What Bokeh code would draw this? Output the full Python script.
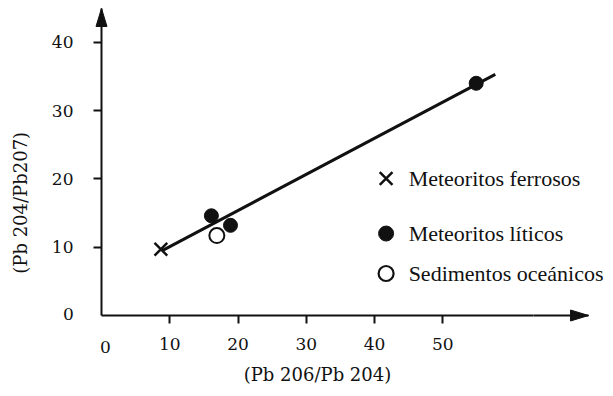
import math
from bokeh.plotting import figure
from bokeh.models import Range1d, FixedTicker, Label
from bokeh.embed import file_html
from bokeh.resources import INLINE

# ---- data ----
ferrosos_x = [8.7]
ferrosos_y = [9.7]
liticos_x = [16.1, 18.9, 54.9]
liticos_y = [14.6, 13.2, 34.0]
sedimentos_x = [16.9]
sedimentos_y = [11.7]
fit_x = [8.9, 57.7]
fit_y = [9.5, 35.3]
x_ticks = [10, 20, 30, 40, 50]
y_ticks = [10, 20, 30, 40]
legend_labels = ["Meteoritos ferrosos", "Meteoritos líticos", "Sedimentos oceánicos"]
x_title = "(Pb 206/Pb 204)"
y_title = "(Pb 204/Pb207)"

# ---- layout constants ----
W, H = 605, 388
SX, SY = 6.825, 6.83          # pixels per data unit
X0_PX, Y0_PX = 101, 315       # where the origin sits on the canvas
X_START = -X0_PX / SX
X_END = X_START + W / SX
Y_START = -(H - Y0_PX) / SY
Y_END = Y0_PX / SY
X_TIP = 71.36
Y_TIP = 44.95
X_AXIS_SPAN = 63.3            # axis span used to centre the x title
INK = "#111111"
TICK_FONT = "DejaVu Serif"
LEG_FONT = "Liberation Serif"

p = figure(width=W, height=H, output_backend="svg", toolbar_location=None,
           x_range=Range1d(X_START, X_END), y_range=Range1d(Y_START, Y_END),
           min_border=0, min_border_left=0, min_border_right=0,
           min_border_top=0, min_border_bottom=0)
p.grid.visible = False
p.outline_line_color = None
p.background_fill_color = "white"
p.border_fill_color = "white"

for ax, ticks, span in ((p.xaxis, x_ticks, X_AXIS_SPAN), (p.yaxis, y_ticks, Y_TIP)):
    ax.fixed_location = 0
    ax.bounds = (0, span)
    ax.ticker = FixedTicker(ticks=ticks)
    ax.major_tick_out = 8
    ax.major_tick_in = 0
    ax.minor_tick_out = 0
    ax.minor_tick_in = 0
    ax.axis_line_width = 2
    ax.axis_line_color = INK
    ax.major_tick_line_width = 2
    ax.major_tick_line_color = INK
    ax.major_label_text_font = TICK_FONT
    ax.major_label_text_font_size = "17px"
    ax.major_label_text_color = INK
    ax.axis_label_text_font = TICK_FONT
    ax.axis_label_text_font_size = "18px"
    ax.axis_label_text_font_style = "normal"
    ax.axis_label_text_color = INK

p.xaxis.axis_label = x_title
p.xaxis.major_label_standoff = 14
p.yaxis.major_label_standoff = 20
p.xaxis.axis_label_standoff = 11

# rest of the x axis line up to the arrow
p.segment(x0=[X_AXIS_SPAN], y0=[0], x1=[X_TIP], y1=[0], line_width=2, line_color=INK)

# y title (rotated)
p.add_layout(Label(x=-11.87, y=16.5, text=y_title, angle=math.pi / 2,
                   text_align="center", text_baseline="middle", text_font=TICK_FONT,
                   text_font_size="18px", text_color=INK))

# zero labels at the origin
p.add_layout(Label(x=0, y=0, text="0", x_offset=4, y_offset=-31, text_align="center",
                   text_baseline="middle", text_font=TICK_FONT,
                   text_font_size="17px", text_color=INK))
p.add_layout(Label(x=0, y=0, text="0", x_offset=-33, y_offset=2, text_align="center",
                   text_baseline="middle", text_font=TICK_FONT,
                   text_font_size="17px", text_color=INK))

# arrow heads (18 px long, 11 px wide)
L, HW = 18.0, 5.5
p.patch([X_TIP, X_TIP - L / SX, X_TIP - L / SX], [0, HW / SY, -HW / SY],
        fill_color=INK, line_color=INK, line_width=1)
p.patch([0, HW / SX, -HW / SX], [Y_TIP, Y_TIP - L / SY, Y_TIP - L / SY],
        fill_color=INK, line_color=INK, line_width=1)

# fitted line
p.line(fit_x, fit_y, line_width=3, line_color=INK)

# points
p.scatter(ferrosos_x, ferrosos_y, marker="x", size=18, line_width=2.5, line_color=INK)
p.scatter(liticos_x, liticos_y, marker="circle", size=14, fill_color=INK, line_color=INK)
p.scatter(sedimentos_x, sedimentos_y, marker="circle", size=15, fill_color="white",
          line_color=INK, line_width=2)

# legend (manual)
LEG_X = 41.7
LEG_Y = [20.06, 12.0, 6.15]
TXT_X = 45.0
p.scatter([LEG_X], [LEG_Y[0]], marker="x", size=18, line_width=2.5, line_color=INK)
p.scatter([LEG_X], [LEG_Y[1]], marker="circle", size=15, fill_color=INK, line_color=INK)
p.scatter([LEG_X], [LEG_Y[2]], marker="circle", size=15, fill_color="white",
          line_color=INK, line_width=2.2)
for lbl, ly in zip(legend_labels, LEG_Y):
    p.add_layout(Label(x=TXT_X, y=ly, text=lbl, text_align="left",
                       text_baseline="middle", text_font=LEG_FONT,
                       text_font_size="22px", text_color=INK))

open("out.html", "w").write(file_html(p, INLINE))
